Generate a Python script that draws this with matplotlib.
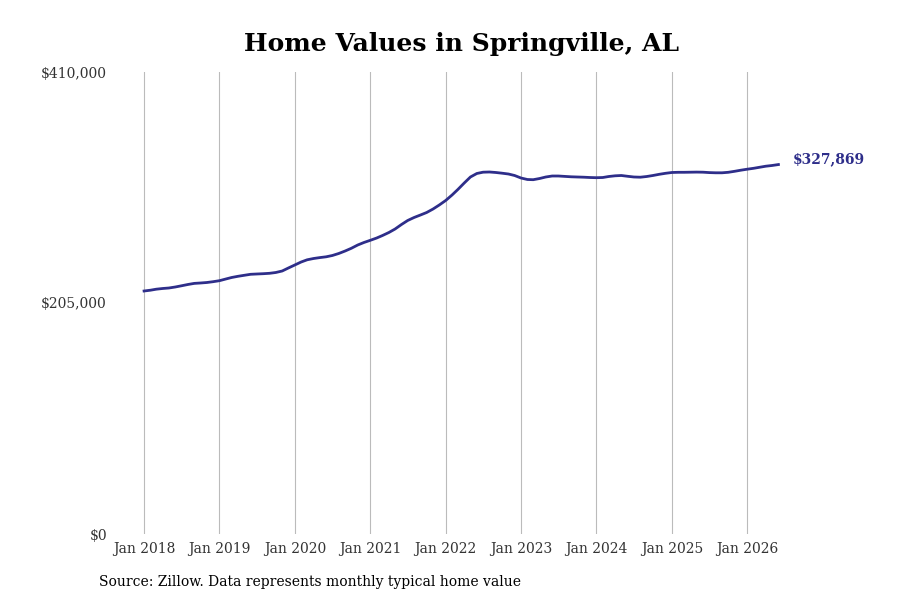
import pandas as pd
import matplotlib
matplotlib.use('Agg')
import matplotlib.pyplot as plt

# Monthly typical home value, Jan 2018 - Jun 2026
start_month = '2018-01-01'
home_values = [
    215650, 216360, 217250, 217870, 218310, 219200, 220270, 221420, 222400, 222750, 223190, 223900,
    224790, 226300, 227630, 228700, 229580, 230470, 230740, 231000, 231360, 232070, 233400, 236060,
    238720, 241390, 243340, 244490, 245290, 246000, 247150, 248930, 251150, 253550, 256470, 258690,
    260640, 262690, 264900, 267570, 270670, 274670, 278220, 280880, 283100, 285320, 288420, 291970,
    295960, 300850, 305730, 311500, 316820, 319930, 321080, 321260, 320820, 320200, 319480, 318150,
    315930, 314600, 314420, 315480, 316820, 317700, 317700, 317350, 317000, 316820, 316640, 316370,
    316200, 316370, 317260, 317880, 318150, 317440, 316820, 316640, 317260, 318150, 319220, 320100,
    320820, 320990, 320990, 321080, 321170, 321080, 320730, 320550, 320550, 320990, 321880, 322850,
    323740, 324540, 325430, 326400, 327030, 327869,
]
y_ticks = [0, 205000, 410000]
y_tick_labels = ['$0', '$205,000', '$410,000']
x_tick_years = list(range(2018, 2027))

line_color = '#2e2e8a'
plt.rcParams['font.family'] = 'DejaVu Serif'

dates = pd.date_range(start_month, periods=len(home_values), freq='MS')

fig = plt.figure(figsize=(9, 6), dpi=100)
ax = fig.add_axes([0.125, 0.11, 0.775, 0.77])

ax.plot(dates, home_values, color=line_color, linewidth=2)

ax.annotate(f'${home_values[-1]:,}', (dates[-1], home_values[-1]),
            xytext=(10, 3.5), textcoords='offset points',
            ha='left', va='center', fontsize=10, fontweight='bold', color=line_color)

ax.set_ylim(0, 410000)
ax.set_yticks(y_ticks)
ax.set_yticklabels(y_tick_labels, fontsize=10, color='#333333')

ax.set_xlim(pd.Timestamp('2017-08-01'), pd.Timestamp('2026-11-01'))
ax.set_xticks([pd.Timestamp(f'{y}-01-01') for y in x_tick_years])
ax.set_xticklabels([f'Jan {y}' for y in x_tick_years], fontsize=10, color='#333333')

ax.tick_params(axis='both', length=0)
ax.tick_params(axis='x', pad=6)
ax.tick_params(axis='y', pad=4)
ax.grid(axis='x', color='#bbbbbb', linewidth=0.8)
ax.grid(axis='y', visible=False)
for s in ax.spines.values():
    s.set_visible(False)

ax.set_title('Home Values in Springville, AL', fontsize=18, fontweight='bold', pad=15)
fig.text(0.11, 0.03, 'Source: Zillow. Data represents monthly typical home value',
         fontsize=10, va='center', ha='left')

fig.savefig('out.png', dpi=100)
